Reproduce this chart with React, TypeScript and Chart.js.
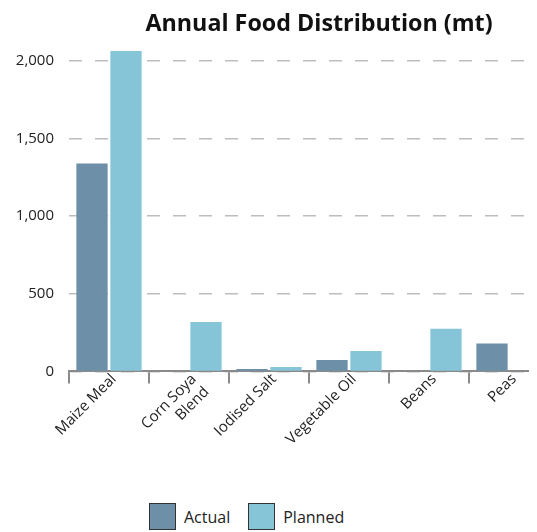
import React, { useEffect, useRef } from "react";
import { Chart, registerables } from "chart.js";

Chart.register(...registerables);

const categories: (string | string[])[] = [
  "Maize Meal",
  ["Corn Soya", "Blend"],
  "Iodised Salt",
  "Vegetable Oil",
  "Beans",
  "Peas",
];
const actualValues = [1340, 0, 15, 74, 0, 180];
const plannedValues = [2065, 319, 29, 132, 274, 0];
const yTickValues = [0, 500, 1000, 1500, 2000];
const titleText = "Annual Food Distribution (mt)";
const seriesNames = ["Actual", "Planned"];
const seriesColors = ["#6d90a8", "#86c4d8"];

const FONT = "'Open Sans', sans-serif";

export default function App() {
  const ref = useRef<HTMLCanvasElement | null>(null);

  useEffect(() => {
    if (!ref.current) return;
    const chart = new Chart(ref.current, {
      type: "bar",
      data: {
        labels: categories as any,
        datasets: [
          {
            label: seriesNames[0],
            data: actualValues,
            backgroundColor: seriesColors[0],
            categoryPercentage: 0.85,
            barPercentage: 0.92,
          },
          {
            label: seriesNames[1],
            data: plannedValues,
            backgroundColor: seriesColors[1],
            categoryPercentage: 0.85,
            barPercentage: 0.92,
          },
        ],
      },
      options: {
        responsive: false,
        animation: false,
        layout: { padding: { left: 0, right: 0, bottom: 8, top: 0 } },
        plugins: {
          legend: { display: false },
          tooltip: { enabled: false },
          title: {
            display: true,
            text: titleText,
            color: "#111",
            font: { family: FONT, size: 23.3, weight: "bold" },
            padding: { top: 2, bottom: 13 },
          },
        },
        scales: {
          x: {
            afterFit: (scale: any) => {
              scale.paddingLeft = 0;
              scale.paddingRight = 81;
            },
            grid: {
              display: true,
              drawOnChartArea: false,
              drawTicks: true,
              tickLength: 12,
              color: "#8a8a8a",
              lineWidth: 2,
              offset: true,
            },
            border: { display: true, color: "#8a8a8a", width: 2 },
            ticks: {
              autoSkip: false,
              maxRotation: 45,
              minRotation: 45,
              padding: -13,
              labelOffset: 5,
              color: "#222",
              font: { family: FONT, size: 15 },
            },
          },
          y: {
            min: 0,
            max: 2065,
            afterBuildTicks: (scale: any) => {
              scale.ticks = yTickValues.map((v) => ({ value: v }));
            },
            afterFit: (scale: any) => {
              scale.width = 61;
            },
            grid: {
              color: "#bdbdbd",
              lineWidth: 1.5,
              drawTicks: false,
            },
            border: { display: false, dash: [13, 13] },
            ticks: {
              padding: 15,
              color: "#222",
              font: { family: FONT, size: 15 },
              callback: (v: any) => Number(v).toLocaleString("en-US"),
            },
          },
        },
      },
    });
    return () => chart.destroy();
  }, []);

  const box = (color: string) => ({
    display: "inline-block",
    width: 27,
    height: 27,
    background: color,
    border: "1.5px solid #333",
    boxSizing: "border-box" as const,
  });

  return (
    <div style={{ position: "relative", width: 529, height: 524, overflow: "hidden" }}>
      <canvas ref={ref} width={622} height={448} style={{ display: "block" }} />
      <div
        style={{
          position: "absolute",
          left: 141,
          top: 495,
          display: "flex",
          alignItems: "center",
          fontFamily: FONT,
          fontSize: 16,
          color: "#222",
          whiteSpace: "nowrap",
        }}
      >
        <span style={box(seriesColors[0])} />
        <span style={{ marginLeft: 8, marginRight: 18 }}>{seriesNames[0]}</span>
        <span style={box(seriesColors[1])} />
        <span style={{ marginLeft: 8 }}>{seriesNames[1]}</span>
      </div>
    </div>
  );
}
